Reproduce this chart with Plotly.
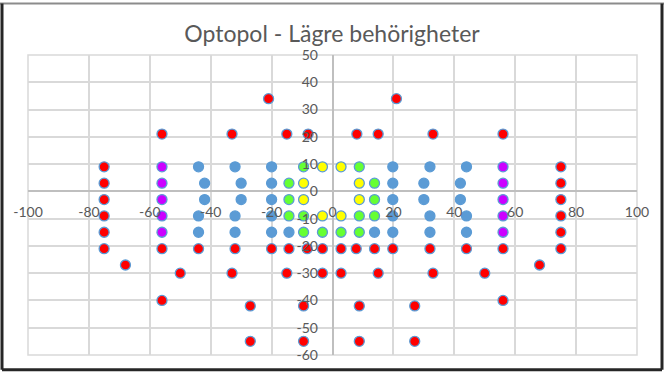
import plotly.graph_objects as go

TITLE = "Optopol - Lägre behörigheter"

# Red points
red_x = [-21, 21,
         -56, -33, -15, -8, 8, 15, 33, 56,
         -75, 75, -75, 75, -75, 75, -75, 75, -75, 75,
         -75, -56, -44, -32, -20, -14.3, -8.3, -3.3, 2.8, 7.8, 13.8, 19.8, 32, 44, 56, 75,
         -68, 68,
         -50, -33, -15, -3.3, 2.8, 15, 33, 50,
         -56, 56,
         -27, -9.5, 8.8, 27,
         -27, -9.5, 8.8, 27]
red_y = [34, 34,
         21, 21, 21, 21, 21, 21, 21, 21,
         9, 9, 3, 3, -3, -3, -9, -9, -15, -15,
         -21, -21, -21, -21, -21, -21, -21, -21, -21, -21, -21, -21, -21, -21, -21, -21,
         -27, -27,
         -30, -30, -30, -30, -30, -30, -30, -30,
         -40, -40,
         -42, -42, -42, -42,
         -55, -55, -55, -55]

# Magenta points
magenta_x = [-56, 56, -56, 56, -56, 56, -56, 56, -56, 56]
magenta_y = [9, 9, 3, 3, -3, -3, -9, -9, -15, -15]

# Blue points
blue_x = [-44, -32, -20, 19.8, 32, 44,
          -42, -30, -20, 19.8, 30, 42,
          -42, -30, -20, 19.8, 30, 42,
          -44, -32, -20, 19.8, 32, 44,
          -44, -32, -20, -14.3, 13.8, 19.8, 32, 44]
blue_y = [9] * 6 + [3] * 6 + [-3] * 6 + [-9] * 6 + [-15] * 8

# Green points
green_x = [-9.5, 8.8,
           -14.3, 13.8,
           -14.3, 13.8,
           -14.3, -9.5, 8.8, 13.8,
           -9.5, -3.3, 2.8, 8.8]
green_y = [9, 9, 3, 3, -3, -3, -9, -9, -9, -9, -15, -15, -15, -15]

# Yellow points
yellow_x = [-3.3, 2.8, -9.5, 8.8, -9.5, 8.8, -3.3, 2.8]
yellow_y = [9, 9, 3, 3, -3, -3, -9, -9]

x_ticks = list(range(-100, 101, 20))
y_ticks = list(range(-60, 51, 10))

EDGE = "#5B9BD5"
series = [
    (blue_x, blue_y, "#5B9BD5"),
    (red_x, red_y, "#FF0000"),
    (magenta_x, magenta_y, "#CC00FF"),
    (green_x, green_y, "#66FF33"),
    (yellow_x, yellow_y, "#FFFF00"),
]

fig = go.Figure()
for xs, ys, col in series:
    fig.add_trace(go.Scatter(
        x=xs, y=ys, mode="markers",
        marker=dict(size=10, color=col, line=dict(color=EDGE, width=1.3)),
        showlegend=False, cliponaxis=False,
    ))

FONT = "Lato, 'Open Sans', sans-serif"
fig.update_layout(
    width=664, height=375,
    margin=dict(l=28, r=27, t=55, b=17),
    paper_bgcolor="white", plot_bgcolor="white",
    title=dict(text=TITLE, x=0.5, xanchor="center", y=0.91, yanchor="middle",
               font=dict(family=FONT, size=23, color="#595959")),
    font=dict(family=FONT, size=14, color="#595959"),
    xaxis=dict(range=[-100, 100], tickvals=x_ticks, ticktext=[str(v) for v in x_ticks],
               showgrid=True, gridcolor="#d9d9d9", gridwidth=1.5,
               zeroline=False, showline=True, linecolor="#bfbfbf", linewidth=1.5,
               anchor="free", position=(0 - (-60)) / 110.0,
               ticks="", ticklabelstandoff=8, fixedrange=True),
    yaxis=dict(range=[-60, 50], tickvals=y_ticks, ticktext=[str(v) for v in y_ticks],
               showgrid=True, gridcolor="#d9d9d9", gridwidth=1.5,
               zeroline=False, showline=True, linecolor="#bfbfbf", linewidth=1.5,
               anchor="free", position=0.5,
               ticks="", ticklabelstandoff=11, fixedrange=True),
    shapes=[
        dict(type="rect", xref="paper", yref="paper", x0=0, x1=1, y0=0, y1=1,
             line=dict(color="#d9d9d9", width=1.5), layer="below"),
        dict(type="line", xref="paper", yref="paper", x0=-28/609, x1=637/609 + 0.0,
             y0=1 + 52/302.7, y1=1 + 52/302.7, line=dict(color="#8c8c8c", width=2)),
        dict(type="line", xref="paper", yref="paper", x0=-26/609, x1=-26/609,
             y0=-15/302.7, y1=1 + 52/302.7, line=dict(color="#262626", width=3)),
        dict(type="line", xref="paper", yref="paper", x0=1 + 25/609, x1=1 + 25/609,
             y0=-15/302.7, y1=1 + 52/302.7, line=dict(color="#262626", width=3)),
        dict(type="line", xref="paper", yref="paper", x0=-26/609, x1=1 + 25/609,
             y0=-15/302.7, y1=-15/302.7, line=dict(color="#262626", width=3)),
    ],
)

fig.write_html("out.html")
